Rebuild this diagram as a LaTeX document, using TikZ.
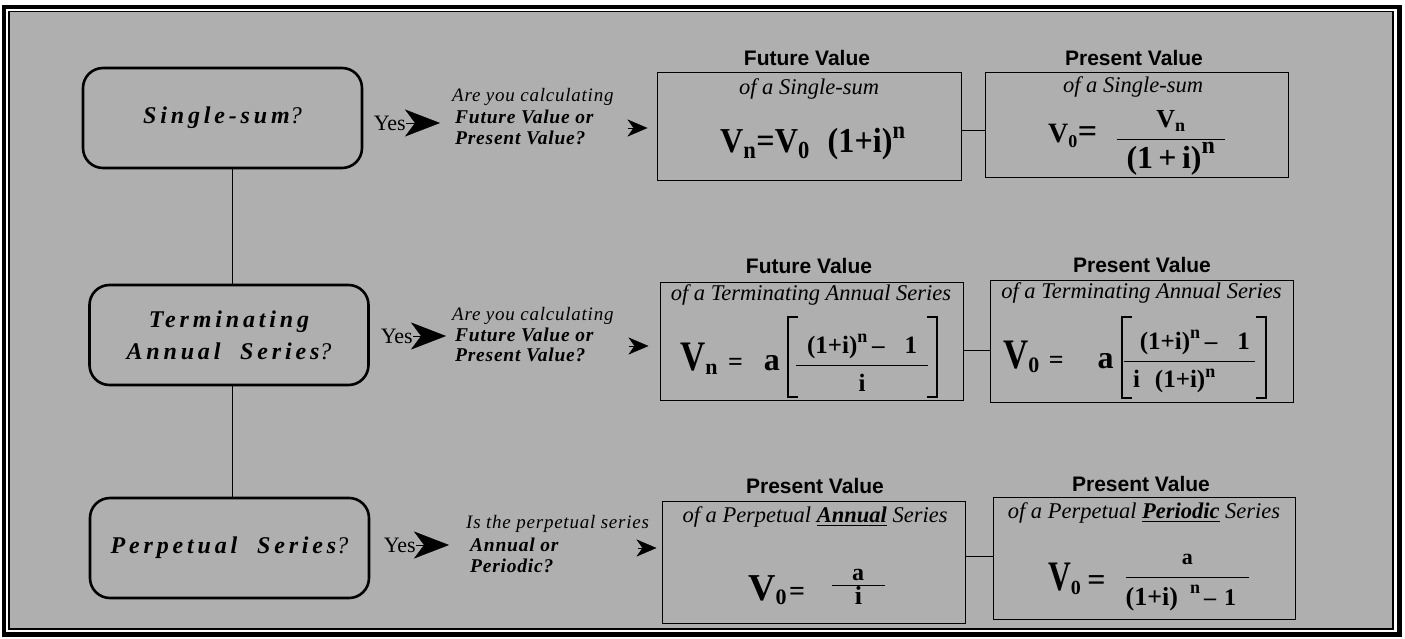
\RequirePackage{fix-cm}
\documentclass[tikz,border=0pt]{standalone}
\usepackage{amsmath}
\usepackage{graphicx}
\usepackage{fontspec}
\setmainfont{Liberation Serif}
\newfontfamily\boxfont{Liberation Serif}[LetterSpace=16]
\newfontfamily\qfont{Liberation Serif}[LetterSpace=4]
\newfontfamily\headfont{Liberation Sans}
\newfontfamily\fmfont{Liberation Serif}
\usetikzlibrary{arrows.meta}
\definecolor{bgray}{RGB}{175,175,175}
\newcommand{\tx}[1]{\text{#1}}
\newcommand{\sz}[2]{\text{\fontsize{#1}{#1}\selectfont #2}}
\newcommand{\CV}[1]{\scalebox{#1}[1]{\sz{42}{V}}}
\begin{document}
\begin{tikzpicture}[x=1pt,y=-1pt,
  qbox/.style={draw, line width=2.6pt, rounded corners=20pt, minimum width=279pt, minimum height=100pt, align=center, inner sep=0pt, font=\boxfont\bfseries\itshape\fontsize{24}{32}\selectfont},
  fbx/.style={draw, line width=1pt, inner sep=0pt},
  headt/.style={font=\headfont\bfseries\fontsize{21}{22}\selectfont, anchor=base, inner sep=0pt},
  subt/.style={font=\fmfont\itshape\fontsize{22.5}{24}\selectfont, anchor=base, inner sep=0pt},
  ques/.style={font=\qfont\itshape\fontsize{19}{21}\selectfont, anchor=base west, inner sep=0pt},
  qbold/.style={ques, font=\qfont\bfseries\itshape\fontsize{19.5}{21}\selectfont},
  yest/.style={font=\fmfont\fontsize{22}{24}\selectfont, anchor=east, inner sep=0pt},
  bigtip/.style={-{Stealth[length=35pt,width=27pt,inset=10pt]}, line width=0.4pt},
  smalltip/.style={-{Stealth[length=20pt,width=17pt,inset=6pt]}, line width=0.4pt},
  fml/.style={inner sep=0pt, anchor=base west},
  brk/.style={line width=1.3pt},
  link/.style={line width=0.9pt}]
\useasboundingbox (0,0) rectangle (1405,639);
\fill[white] (0,0) rectangle (1405,639);
\draw[line width=4.5pt] (4,7) rectangle (1399.5,634.5);
\draw[line width=1.2pt, fill=bgray] (9,11.5) rectangle (1393,629);

% decision boxes
\node[qbox] (b1) at (222.5,118) {Single-sum{\mdseries ?}};
\node[qbox] (b2) at (229,335) {Terminating\\Annual\ \ Series{\mdseries ?}};
\node[qbox] (b3) at (229.5,548) {Perpetual\ \ Series{\mdseries ?}};
\coordinate (vx) at (232,0);
\draw[link] (b1.south -| vx) -- (b2.north -| vx);
\draw[link] (b2.south -| vx) -- (b3.north -| vx);

% Yes arrows
\node[yest] (y1) at (406,123) {Yes};
\node[yest] (y2) at (413,336) {Yes};
\node[yest] (y3) at (416,545) {Yes};
\coordinate (t1) at (440,123);
\coordinate (t2) at (446,336);
\coordinate (t3) at (449,545);
\draw[bigtip] (y1.east) -- (t1);
\draw[bigtip] (y2.east) -- (t2);
\draw[bigtip] (y3.east) -- (t3);

% questions
\node[ques] (q1a) at (452,102) {Are you calculating};
\node[qbold] (q1b) at (455,124) {Future Value or};
\node[qbold] (q1c) at (455,145) {Present Value?};
\node[ques] (q2a) at (452,320) {Are you calculating};
\node[qbold] (q2b) at (455,341) {Future Value or};
\node[qbold] (q2c) at (455,361) {Present Value?};
\node[ques] (q3a) at (466,528) {Is the perpetual series};
\node[qbold] (q3b) at (470,551) {Annual or};
\node[qbold] (q3c) at (470,572) {Periodic?};

% formula boxes
\node[fbx, minimum width=304pt, minimum height=108pt] (f1) at (809,127) {};
\node[fbx, minimum width=303pt, minimum height=105pt] (f2) at (1136.5,125.5) {};
\node[fbx, minimum width=303pt, minimum height=118pt] (f3) at (811.5,341) {};
\node[fbx, minimum width=303pt, minimum height=122pt] (f4) at (1141.5,341) {};
\node[fbx, minimum width=303pt, minimum height=122pt] (f5) at (813.5,562) {};
\node[fbx, minimum width=302pt, minimum height=122pt] (f6) at (1144,558) {};

\coordinate (s1) at (628,128);
\coordinate (s2) at (629,346);
\coordinate (s3) at (638,548);
\draw[smalltip, shorten >=9pt] (s1) -- (s1 -| f1.west);
\draw[smalltip, shorten >=11pt] (s2) -- (s2 -| f3.west);
\draw[smalltip, shorten >=5pt] (s3) -- (s3 -| f5.west);

\draw[link] ([yshift=-3pt]f1.east) -- ([yshift=-3pt]f1.east -| f2.west);
\draw[link] ([yshift=-9pt]f3.east) -- ([yshift=-9pt]f3.east -| f4.west);
\draw[link] ([yshift=6pt]f5.east) -- ([yshift=6pt]f5.east -| f6.west);

% headings
\node[headt] (h1) at (807,66) {Future Value};
\node[headt] (h2) at (1134,66) {Present Value};
\node[headt] (h3) at (809,273) {Future Value};
\node[headt] (h4) at (1142,272) {Present Value};
\node[headt] (h5) at (815,493) {Present Value};
\node[headt] (h6) at (1141,491) {Present Value};

% subtitles
\node[subt] (u1) at (809,95) {of a Single-sum};
\node[subt] (u2) at (1133,93) {of a Single-sum};
\node[subt] (u3) at (811,300) {of a Terminating Annual Series};
\node[subt] (u4) at (1141.5,298) {of a Terminating Annual Series};
\node[subt] (u5) at (815,522) {of a Perpetual \underline{\bfseries Annual} Series};
\node[subt] (u6) at (1144,518) {of a Perpetual \underline{\bfseries Periodic} Series};

% formulas
\node[fml, font=\fmfont\bfseries\fontsize{35}{40}\selectfont] (e1) at (720,153)
  {\scalebox{0.92}[1]{$\tx{V}_{\tx{n}}\tx{=}\tx{V}_{\tx{0}}\;\;\tx{(1+i)}^{\tx{n}}$}};
\node[fml, font=\fmfont\bfseries\fontsize{28}{34}\selectfont] (e2) at (1048,143)
  {$\sz{28}{V}_{\sz{18}{0}}\sz{34}{=}\hspace{18pt}\raisebox{-3pt}{$\dfrac{\sz{26}{V}_{\sz{18}{n}}}{\hspace{10pt}\sz{32}{(1\,+\,i)}^{\sz{24}{n}}\hspace{10pt}}$}$};
\node[fml, font=\fmfont\bfseries\fontsize{28}{34}\selectfont] (e3) at (680,370)
  {$\CV{0.83}_{\sz{22}{n}}\hspace{10pt}\sz{26}{=}\hspace{21pt}\sz{32}{a}\hspace{15pt}\raisebox{-2pt}{$\dfrac{\hspace{11pt}\sz{25}{(1+i)}^{\sz{18}{n}}\sz{25}{\,–\hspace{20pt}1}\hspace{11pt}}{\sz{25}{i}}$}$};
\node[fml, font=\fmfont\bfseries\fontsize{28}{34}\selectfont] (e4) at (1003,368)
  {$\CV{0.83}_{\sz{22}{0}}\hspace{9pt}\sz{26}{=}\hspace{34pt}\sz{32}{a}\hspace{9pt}\dfrac{\hspace{16pt}\sz{25}{(1+i)}^{\sz{18}{n}}\sz{25}{\,–\hspace{20pt}1}\hspace{5pt}}{\sz{25}{i\hspace{15pt}(1+i)}^{\sz{18}{n}}\hspace{30pt}}$};
\node[fml, font=\fmfont\bfseries\fontsize{30}{34}\selectfont] (e5) at (748,600)
  {$\sz{38}{V}_{\sz{22}{0}}\hspace{2pt}\sz{28}{=}\hspace{25.8pt}\raisebox{7.5pt}{$\textstyle\frac{\hspace{20pt}\sz{24}{a}\hspace{21pt}}{\sz{26}{i}}$}$};
\node[fml, font=\fmfont\bfseries\fontsize{30}{34}\selectfont] (e6) at (1048,590)
  {$\CV{0.75}_{\sz{20}{0}}\hspace{6pt}\sz{32}{=}\hspace{18.8pt}\raisebox{5.5pt}{$\dfrac{\sz{22}{a}}{\sz{26}{(1+i)}\hspace{12pt}\raisebox{12pt}{\sz{18}{n}}\sz{24}{\,–\hspace{8pt}1}\hspace{13pt}}$}$};

% square brackets
\draw[brk] (798,317) -- (788,317) -- (788,397) -- (798,397);
\draw[brk] (927,317) -- (937,317) -- (937,397) -- (927,397);
\draw[brk] (1132,317) -- (1122,317) -- (1122,398) -- (1132,398);
\draw[brk] (1256,317) -- (1266,317) -- (1266,398) -- (1256,398);
\end{tikzpicture}
\end{document}
